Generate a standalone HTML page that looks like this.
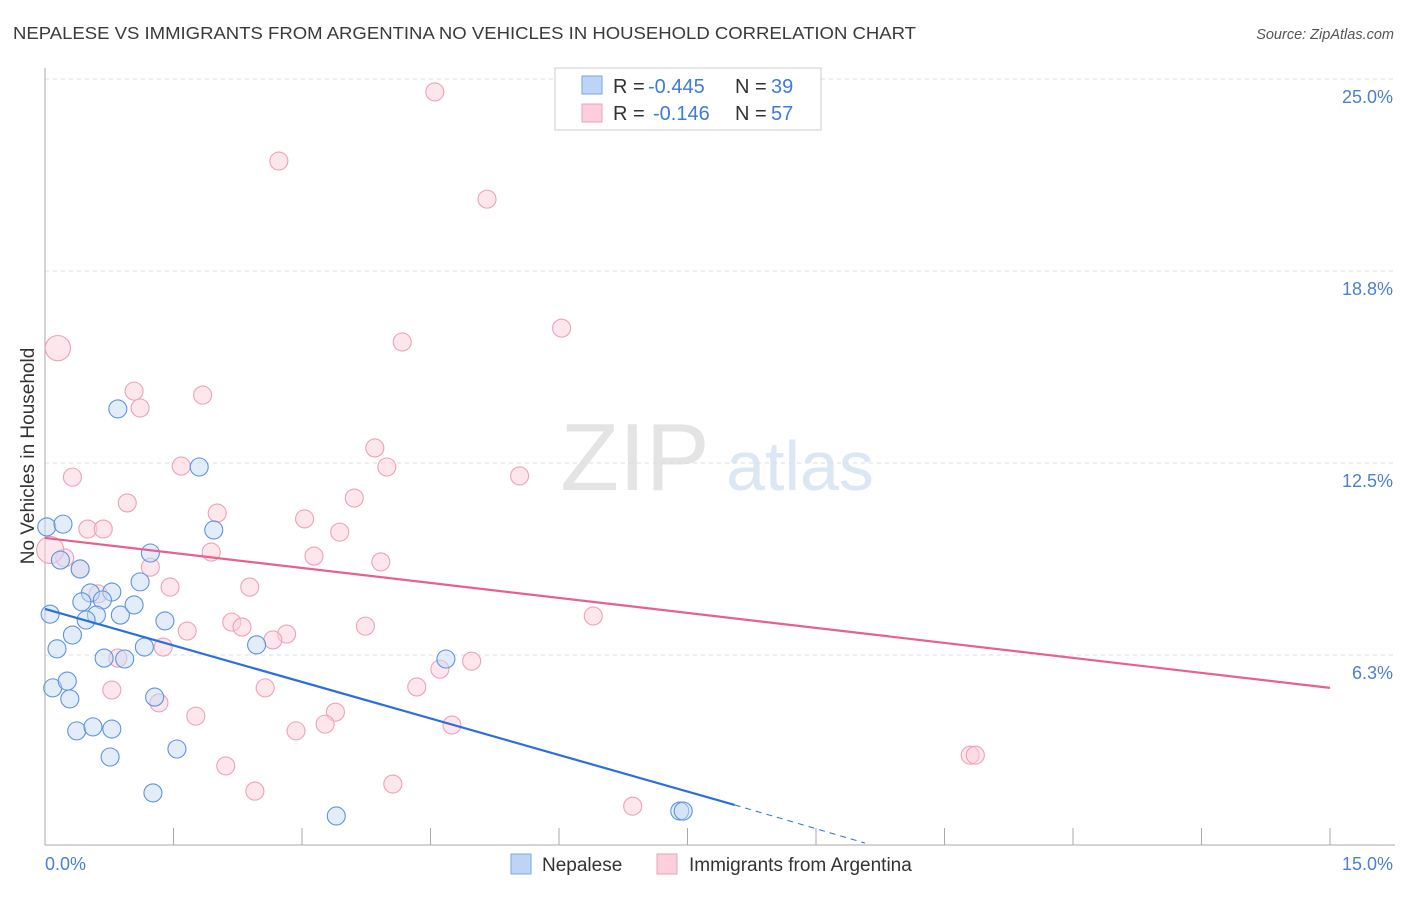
<!DOCTYPE html>
<html><head><meta charset="utf-8"><style>
body{margin:0;background:#fff;font-family:"Liberation Sans",sans-serif;}
svg text{font-family:"Liberation Sans",sans-serif;}
</style></head><body>
<svg id="chart" width="1406" height="892" viewBox="0 0 1406 892" xmlns="http://www.w3.org/2000/svg">
<text x="13" y="39" font-size="17.5" fill="#3a3a3a" textLength="903" lengthAdjust="spacingAndGlyphs">NEPALESE VS IMMIGRANTS FROM ARGENTINA NO VEHICLES IN HOUSEHOLD CORRELATION CHART</text>
<text x="1394" y="39" font-size="14.5" fill="#555" font-style="italic" text-anchor="end">Source: ZipAtlas.com</text>
<g>
<text x="635" y="490" font-size="96" fill="#e4e4e4" font-family="Liberation Serif" text-anchor="middle">ZIP</text>
<text x="800" y="490" font-size="70" fill="#dce7f5" text-anchor="middle">atlas</text>
</g>
<g id="grid"></g>
<g id="axes"></g>
<g id="marks"></g>
<text transform="translate(34,456) rotate(-90)" font-size="19" fill="#333" text-anchor="middle">No Vehicles in Household</text>
<text x="45" y="870" font-size="18" fill="#4a7fd4">0.0%</text>
<text x="1393" y="870" font-size="18" fill="#4a7fd4" text-anchor="end">15.0%</text>
<g>
<rect x="555" y="68" width="266" height="62" fill="#fff" stroke="#ccc"/>
<rect x="582" y="76" width="20" height="18" fill="#bcd4f5" stroke="#7aa6e6"/>
<rect x="582" y="104" width="20" height="18" fill="#fbd0dc" stroke="#eea0b8"/>
<text x="613" y="93" font-size="20" fill="#333">R =</text>
<text x="648" y="93" font-size="20" fill="#3d7bd9">-0.445</text>
<text x="735" y="93" font-size="20" fill="#333">N =</text>
<text x="771" y="93" font-size="20" fill="#3d7bd9">39</text>
<text x="613" y="120" font-size="20" fill="#333">R =</text>
<text x="653" y="120" font-size="20" fill="#3d7bd9">-0.146</text>
<text x="735" y="120" font-size="20" fill="#333">N =</text>
<text x="771" y="120" font-size="20" fill="#3d7bd9">57</text>
</g>
<g>
<rect x="511" y="854" width="20" height="20" fill="#bcd4f5" stroke="#7aa6e6"/>
<text x="542" y="871" font-size="19" fill="#333">Nepalese</text>
<rect x="657" y="854" width="20" height="20" fill="#fbd0dc" stroke="#eea0b8"/>
<text x="689" y="871" font-size="19" fill="#333">Immigrants from Argentina</text>
</g>
</svg>
<script>
const yTicks=[6.25,12.5,18.75,25];
const yTickLabels=["6.3%","12.5%","18.8%","25.0%"];
const xTicks=[0,1.5,3,4.5,6,7.5,9,10.5,12,13.5,15];
const blueX=[0.02,0.21,0.18,0.41,1.23,1.97,1.80,0.85,0.53,0.78,1.11,0.43,0.67,0.60,0.48,0.88,1.04,1.40,0.06,0.32,0.14,0.69,0.93,1.16,2.47,0.09,0.26,0.29,1.28,0.37,0.56,0.78,0.76,1.54,1.26,3.40,4.68,7.41,7.45];
const blueY=[10.42,10.51,9.34,9.05,9.57,10.32,12.37,14.26,8.27,8.30,8.63,7.98,8.04,7.55,7.39,7.55,7.88,7.36,7.58,6.90,6.45,6.15,6.12,6.51,6.58,5.18,5.40,4.82,4.88,3.78,3.91,3.84,2.93,3.19,1.76,1.01,6.12,1.17,1.17];
const pinkX=[4.55,2.73,5.16,6.03,4.17,0.15,1.04,1.11,1.84,3.85,1.59,3.99,5.54,0.32,0.96,3.61,2.01,3.03,0.50,0.68,3.44,1.94,0.23,0.06,3.14,3.92,1.23,0.41,1.46,2.39,0.62,6.40,2.18,2.30,3.74,2.82,2.66,1.66,1.38,0.85,4.98,4.61,0.78,2.57,4.34,1.33,1.76,3.39,3.27,2.93,4.75,2.11,2.45,4.06,6.86,10.80,10.86];
const pinkY=[24.58,22.33,21.09,16.89,16.44,16.24,14.84,14.29,14.71,12.99,12.40,12.37,12.08,12.04,11.20,11.36,10.87,10.68,10.35,10.35,10.25,9.60,9.41,9.67,9.47,9.28,9.11,9.05,8.46,8.46,8.24,7.52,7.32,7.16,7.19,6.93,6.74,7.03,6.51,6.15,6.05,5.79,5.11,5.18,5.21,4.69,4.26,4.39,4.00,3.78,3.97,2.64,1.82,2.05,1.33,2.99,2.99];
const pinkSize=[1,1,1,1,1,1.4,1,1,1,1,1,1,1,1,1,1,1,1,1,1,1,1,1,1.5,1,1,1,1,1,1,1,1,1,1,1,1,1,1,1,1,1,1,1,1,1,1,1,1,1,1,1,1,1,1,1,1,1];
const blueTrend=[[0,7.75],[8.05,1.37]];
const blueTrendExt=[[8.05,1.37],[9.57,0.13]];
const pinkTrend=[[0,10.06],[15,5.18]];
const NS="http://www.w3.org/2000/svg";
const X=v=>45+v/15*1285;
const Y=v=>847-v/25*768;
function mk(parent,tag,attrs){const e=document.createElementNS(NS,tag);for(const k in attrs)e.setAttribute(k,attrs[k]);parent.appendChild(e);return e;}
const grid=document.getElementById('grid'),axes=document.getElementById('axes'),marks=document.getElementById('marks');
yTicks.forEach((t,i)=>{
 const l=mk(grid,'line',{x1:45,x2:1395,y1:Y(t),y2:Y(t),stroke:'#ddd','stroke-dasharray':'4,4'});
 
 
 const tx=mk(grid,'text',{x:1393,y:Y(t)+24,'font-size':18,fill:'#4a7fd4','text-anchor':'end'});
 tx.textContent=yTickLabels[i];
 
 
});
const ya=mk(axes,'line',{x1:45,x2:45,y1:68,y2:845,stroke:'#aaa'});


const xa=mk(axes,'line',{x1:45,x2:1395,y1:845,y2:845,stroke:'#aaa'});


xTicks.forEach(t=>{
 const l=mk(axes,'line',{x1:X(t),x2:X(t),y1:828,y2:845,stroke:'#aaa'});
 
 
});
function dots(xs,ys,fill,stroke,name,sizes){
 xs.forEach((x,i)=>{
  const r=9*(sizes?sizes[i]:1);
  const c=mk(marks,'circle',{cx:X(x),cy:Y(ys[i]),r:r,fill:fill,'fill-opacity':0.5,stroke:stroke,'stroke-width':1.1});
  
  
 });
}
dots(pinkX,pinkY,'#fbd0dc','#eea0b8','argentina-point',pinkSize);
dots(blueX,blueY,'#c7dbf5','#5d93e0','nepalese-point',null);
const pl=mk(marks,'line',{x1:X(pinkTrend[0][0]),y1:Y(pinkTrend[0][1]),x2:X(pinkTrend[1][0]),y2:Y(pinkTrend[1][1]),stroke:'#e8608e','stroke-width':2.2});


const bl=mk(marks,'line',{x1:X(blueTrend[0][0]),y1:Y(blueTrend[0][1]),x2:X(blueTrend[1][0]),y2:Y(blueTrend[1][1]),stroke:'#2a6fdb','stroke-width':2.2});


const be=mk(marks,'line',{x1:X(blueTrendExt[0][0]),y1:Y(blueTrendExt[0][1]),x2:X(blueTrendExt[1][0]),y2:Y(blueTrendExt[1][1]),stroke:'#2a6fdb','stroke-width':1,'stroke-dasharray':'6,5'});


</script>
</body></html>
